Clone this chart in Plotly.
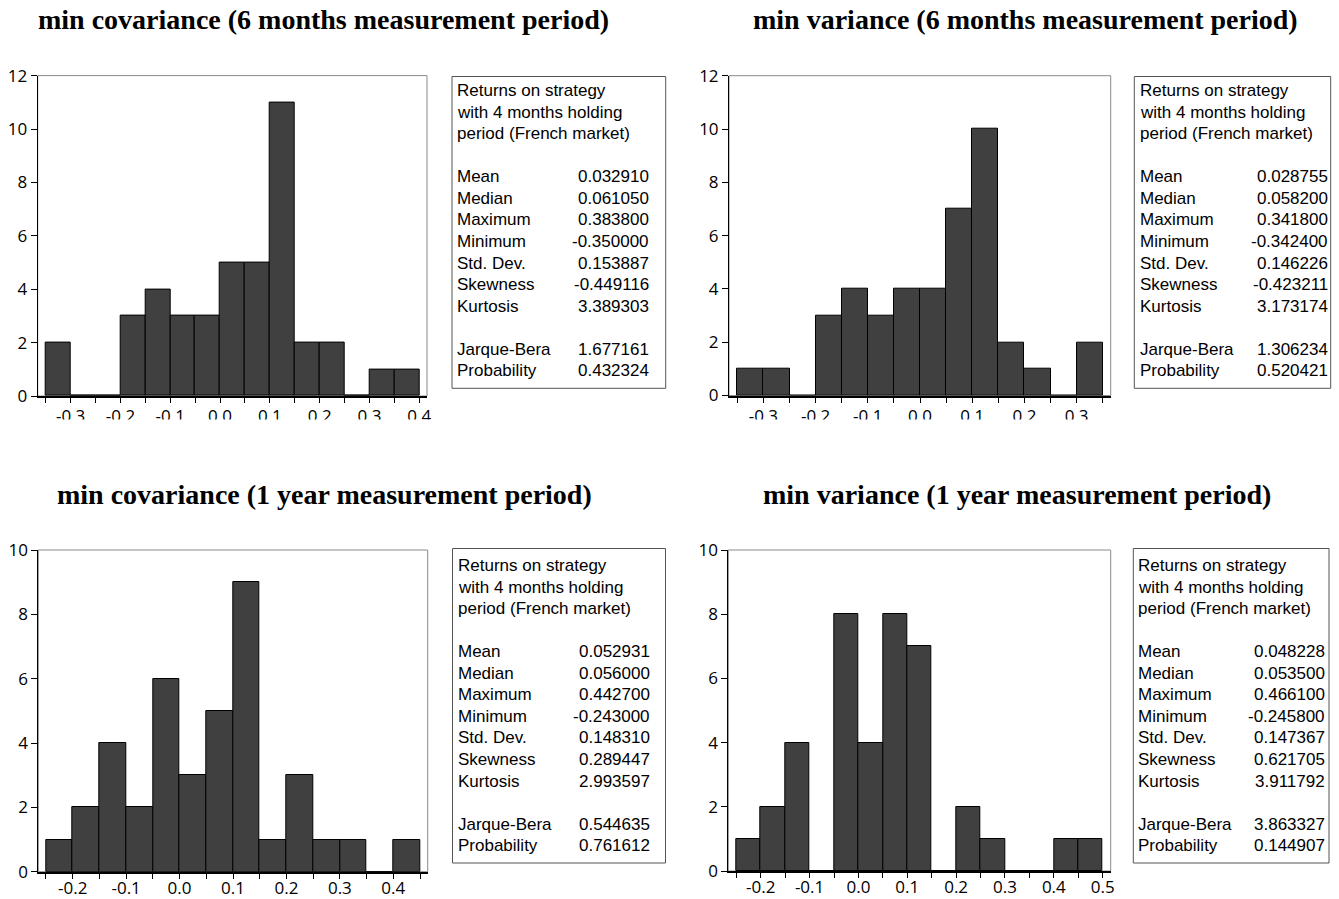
import plotly.graph_objects as go

W, H = 1339, 899

# ---------------- data ----------------
titles = [
    "min covariance (6 months measurement period)",
    "min variance (6 months measurement period)",
    "min covariance (1 year measurement period)",
    "min variance (1 year measurement period)",
]
bin_width = 0.05
first_edges = [-0.35, -0.35, -0.25, -0.25]
counts_p1 = [2, 0, 0, 3, 4, 3, 3, 5, 5, 11, 2, 2, 0, 1, 1]
counts_p2 = [1, 1, 0, 3, 4, 3, 4, 4, 7, 10, 2, 1, 0, 2]
counts_p3 = [1, 2, 4, 2, 6, 3, 5, 9, 1, 3, 1, 1, 0, 1]
counts_p4 = [1, 2, 4, 0, 8, 4, 8, 7, 0, 2, 1, 0, 0, 1, 1]
all_counts = [counts_p1, counts_p2, counts_p3, counts_p4]
y_max = [12, 12, 10, 10]

header_lines = ["Returns on strategy", "with 4 months holding", "period (French market)"]
stat_names = ["Mean", "Median", "Maximum", "Minimum", "Std. Dev.", "Skewness", "Kurtosis"]
test_names = ["Jarque-Bera", "Probability"]
stats_p1 = ["0.032910", "0.061050", "0.383800", "-0.350000", "0.153887", "-0.449116", "3.389303"]
stats_p2 = ["0.028755", "0.058200", "0.341800", "-0.342400", "0.146226", "-0.423211", "3.173174"]
stats_p3 = ["0.052931", "0.056000", "0.442700", "-0.243000", "0.148310", "0.289447", "2.993597"]
stats_p4 = ["0.048228", "0.053500", "0.466100", "-0.245800", "0.147367", "0.621705", "3.911792"]
tests_p1 = ["1.677161", "0.432324"]
tests_p2 = ["1.306234", "0.520421"]
tests_p3 = ["0.544635", "0.761612"]
tests_p4 = ["3.863327", "0.144907"]
all_stats = [stats_p1, stats_p2, stats_p3, stats_p4]
all_tests = [tests_p1, tests_p2, tests_p3, tests_p4]

# ---------------- layout geometry (pixels) ----------------
plot_px = [  # left, right, top, bottom
    (37.7, 427.0, 75.6, 396.0),
    (729.0, 1110.7, 75.7, 395.5),
    (38.3, 427.7, 550.0, 871.7),
    (728.3, 1110.7, 550.0, 871.0),
]
x_ranges = [(-0.3661, 0.4155), (-0.3659, 0.3653), (-0.2644, 0.4644), (-0.2664, 0.5164)]
label_standoff = [-1, -1, -5, -5]
box_px = [  # left, right, top, bottom, text-left, value-right
    (452.0, 665.7, 76.5, 388.3, 455.0, 651.0),
    (1134.3, 1330.7, 76.5, 388.3, 1138.3, 1329.5),
    (452.5, 665.5, 548.5, 863.0, 455.5, 651.5),
    (1133.3, 1329.0, 548.5, 863.0, 1136.3, 1327.0),
]
line_y0 = [90.7, 90.7, 565.5, 565.5]
line_step = 21.55
title_pos = [(323, 20), (1025, 20), (324, 494), (1017, 494)]

def px_x(v):
    return v / W

def px_y(v):
    return 1 - v / H

fig = go.Figure()
shapes = []
annotations = []

tick_font = dict(family="Open Sans", size=17, color="black")
stat_font = dict(family="Liberation Sans", size=17, color="black")

for i in range(4):
    ax = "" if i == 0 else str(i + 1)
    counts = all_counts[i]
    start = first_edges[i]
    centers = [start + (k + 0.5) * bin_width for k in range(len(counts))]
    fig.add_trace(go.Bar(
        x=centers, y=counts, width=bin_width,
        marker=dict(color="#404040", line=dict(color="black", width=1)),
        xaxis="x" + ax, yaxis="y" + ax, showlegend=False, hoverinfo="x+y",
    ))
    l, r, t, b = plot_px[i]
    n_edges = len(counts) + 1
    tvals = [round(start + k * bin_width, 2) for k in range(n_edges)]
    ttext = []
    for v in tvals:
        if abs(round(v * 10) - v * 10) < 1e-6:
            s = "%.1f" % v
            if s == "-0.0":
                s = "0.0"
            ttext.append(s)
        else:
            ttext.append("")
    fig.layout["xaxis" + ax] = dict(
        domain=[px_x(l), px_x(r)], range=list(x_ranges[i]), anchor="y" + ax,
        showgrid=False, zeroline=False, showline=True, linecolor="black", linewidth=2,
        ticks="outside", ticklen=5, tickwidth=1, tickcolor="black", automargin=False,
        tickvals=tvals, ticktext=ttext, tickfont=tick_font, fixedrange=True,
        ticklabelstandoff=label_standoff[i],
    )
    fig.layout["yaxis" + ax] = dict(
        domain=[px_y(b), px_y(t)], range=[0, y_max[i]], anchor="x" + ax,
        showgrid=False, zeroline=False, showline=True, linecolor="black", linewidth=1,
        ticks="outside", ticklen=6, tickwidth=1, tickcolor="black", automargin=False,
        dtick=2, tickfont=tick_font, fixedrange=True,
    )
    # gray frame (top / right edges)
    shapes.append(dict(type="rect", xref="x" + ax + " domain", yref="y" + ax + " domain",
                       x0=0, x1=1, y0=0, y1=1, line=dict(color="#8a8a8a", width=1),
                       layer="below"))
    # title
    tx, ty = title_pos[i]
    annotations.append(dict(text="<b>" + titles[i] + "</b>", xref="paper", yref="paper",
                            x=px_x(tx), y=px_y(ty), xanchor="center", yanchor="middle",
                            showarrow=False,
                            font=dict(family="Liberation Serif", size=28, color="black")))
    # stats box
    bl, br, bt, bb, tl, vr = box_px[i]
    shapes.append(dict(type="rect", xref="paper", yref="paper",
                       x0=px_x(bl), x1=px_x(br), y0=px_y(bb), y1=px_y(bt),
                       line=dict(color="#555555", width=1), fillcolor="white", layer="above"))
    rows = [(h, None) for h in header_lines] + [("", None)]
    rows += list(zip(stat_names, all_stats[i])) + [("", None)]
    rows += list(zip(test_names, all_tests[i]))
    for k, (name, val) in enumerate(rows):
        yy = line_y0[i] + k * line_step
        if name:
            annotations.append(dict(text=name, xref="paper", yref="paper",
                                    x=px_x(tl), y=px_y(yy), xanchor="left", yanchor="middle",
                                    showarrow=False, font=stat_font))
        if val is not None:
            annotations.append(dict(text=val, xref="paper", yref="paper",
                                    x=px_x(vr), y=px_y(yy), xanchor="right", yanchor="middle",
                                    showarrow=False, font=stat_font))

# the top-row tick labels are cut off in the original picture
shapes.append(dict(type="rect", xref="paper", yref="paper",
                   x0=0, x1=1, y0=px_y(470), y1=px_y(419.5),
                   line=dict(width=0), fillcolor="white", layer="above"))

fig.update_layout(
    width=W, height=H, margin=dict(l=0, r=0, t=0, b=0, autoexpand=False),
    paper_bgcolor="white", plot_bgcolor="white",
    shapes=shapes, annotations=annotations, bargap=0,
    font=dict(family="Open Sans", color="black"),
)

fig.write_html("out.html", config={"displayModeBar": False})
